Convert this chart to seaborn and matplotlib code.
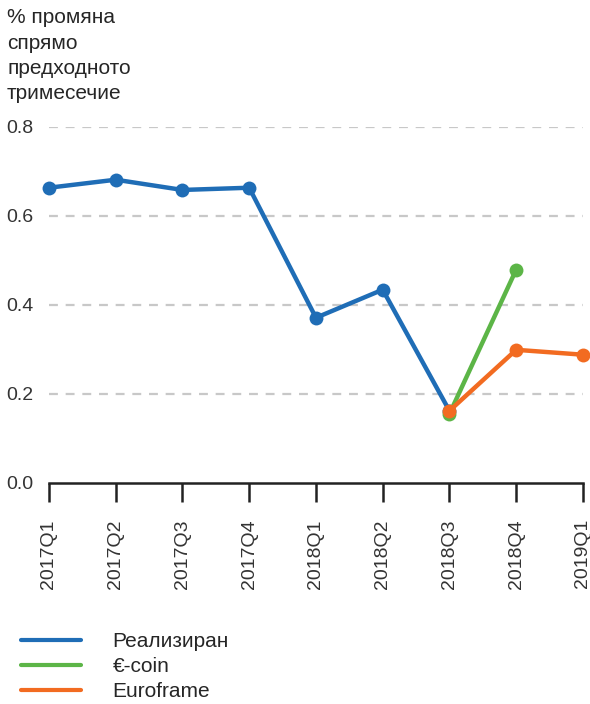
import pandas as pd
import matplotlib
matplotlib.use('Agg')
import matplotlib.pyplot as plt
import seaborn as sns

sns.set_style('white')
plt.rcParams['font.family'] = ['Liberation Sans', 'DejaVu Sans']

quarters = ['2017Q1', '2017Q2', '2017Q3', '2017Q4', '2018Q1', '2018Q2', '2018Q3', '2018Q4', '2019Q1']
realized = [0.663, 0.681, 0.658, 0.663, 0.371, 0.434, 0.162]
ecoin = [0.155, 0.479]
euroframe = [0.162, 0.299, 0.288]
names = ['Реализиран', '€-coin', 'Euroframe']
colors = ['#1f6db6', '#5cb547', '#f26b21']
yticks = [0.0, 0.2, 0.4, 0.6, 0.8]

# long form table
rows = []
for q, v in zip(quarters[:7], realized):
    rows.append((q, v, names[0]))
for q, v in zip(quarters[6:8], ecoin):
    rows.append((q, v, names[1]))
for q, v in zip(quarters[6:9], euroframe):
    rows.append((q, v, names[2]))
df = pd.DataFrame(rows, columns=['quarter', 'value', 'series'])
df['x'] = df['quarter'].map({q: i for i, q in enumerate(quarters)})

fig = plt.figure(figsize=(5.9, 7.04), dpi=100)
ax = fig.add_axes([0.083, 0.314, 0.905, 0.506])

# grid first so lines sit on top
for y in yticks[1:]:
    ax.axhline(y, color='#c8c8c8', lw=1.6, ls=(0, (4, 3.5)), zorder=0)

sns.lineplot(data=df, x='x', y='value', hue='series', hue_order=names,
             palette=colors, marker='o', markersize=10, markeredgewidth=0,
             linewidth=3.2, legend=False, ax=ax, zorder=3, clip_on=False)

narrow = ['Liberation Sans Narrow', 'Liberation Sans']
ax.set_xlim(0, len(quarters) - 1)
ax.set_ylim(0, 0.8)
ax.set_xticks(range(len(quarters)))
ax.set_xticklabels(quarters, rotation=90, fontsize=14, color='#333333',
                   family=narrow)
ax.set_yticks(yticks)
ax.set_yticklabels([f'{v:.1f}' for v in yticks], fontsize=14, color='#333333',
                   family=narrow)
ax.set_xlabel('')
ax.set_ylabel('')
for s in ['top', 'right', 'left']:
    ax.spines[s].set_visible(False)
ax.spines['bottom'].set_color('#222222')
ax.spines['bottom'].set_linewidth(1.8)
ax.tick_params(axis='x', bottom=True, direction='out', length=14, width=1.8,
               color='#222222', pad=12)
ax.tick_params(axis='y', left=False, length=0, pad=11)

fig.text(0.012, 0.988, '% промяна\nспрямо\nпредходното\nтримесечие',
         fontsize=15, va='top', ha='left', linespacing=1.42)

handles = [plt.Line2D([], [], color=c, lw=3) for c in colors]
fig.legend(handles, names, loc='lower left', bbox_to_anchor=(0.011, -0.017),
           frameon=False, fontsize=15, handlelength=2.9, handletextpad=1.5,
           labelspacing=0.3, borderaxespad=0.3)

fig.savefig('out.png', dpi=100)
